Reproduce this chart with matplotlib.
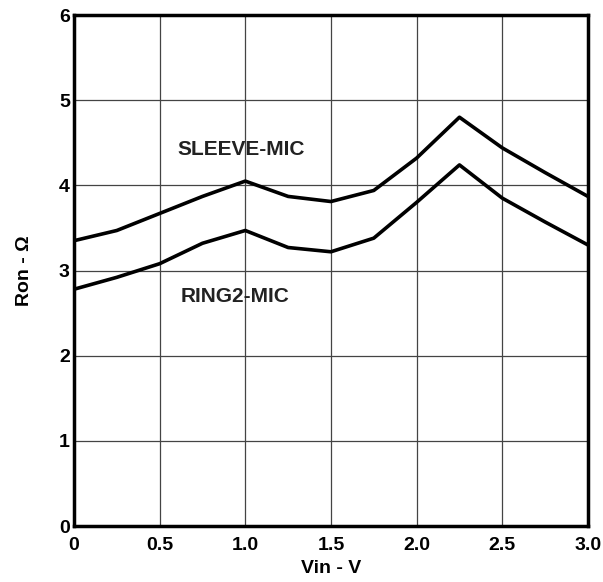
import matplotlib
matplotlib.use("Agg")
import matplotlib.pyplot as plt

plt.rcParams["font.family"] = ["Liberation Sans", "DejaVu Sans"]
plt.rcParams["font.weight"] = "bold"

# Vin values and on-resistance readings
vin = [0, 0.25, 0.5, 0.75, 1.0, 1.25, 1.5, 1.75, 2.0, 2.25, 2.5, 2.75, 3.0]
sleeve_mic = [3.35, 3.47, 3.67, 3.87, 4.05, 3.87, 3.81, 3.94, 4.32, 4.80, 4.44, 4.15, 3.87]
ring2_mic = [2.78, 2.92, 3.08, 3.32, 3.47, 3.27, 3.22, 3.38, 3.80, 4.24, 3.85, 3.57, 3.30]

x_ticks = [0, 0.5, 1.0, 1.5, 2.0, 2.5, 3.0]
x_tick_labels = ["0", "0.5", "1.0", "1.5", "2.0", "2.5", "3.0"]
y_ticks = [0, 1, 2, 3, 4, 5, 6]

fig = plt.figure(figsize=(6.03, 5.82), dpi=100)
ax = fig.add_axes([0.1227, 0.0962, 0.8523, 0.878])

ax.plot(vin, sleeve_mic, color="black", linewidth=2.6)
ax.plot(vin, ring2_mic, color="black", linewidth=2.6)

ax.text(0.975, 4.42, "SLEEVE-MIC", ha="center", va="center", fontsize=15, fontweight="bold", color="#222222")
ax.text(0.94, 2.69, "RING2-MIC", ha="center", va="center", fontsize=15, fontweight="bold", color="#222222")

ax.set_xlim(0, 3.0)
ax.set_ylim(0, 6)
ax.set_xticks(x_ticks)
ax.set_xticklabels(x_tick_labels)
ax.set_yticks(y_ticks)
ax.tick_params(axis="x", length=0, labelsize=14, pad=8)
ax.tick_params(axis="y", length=0, labelsize=14, pad=3)
for lab in ax.get_xticklabels() + ax.get_yticklabels():
    lab.set_fontweight("bold")

ax.grid(True, color="#444444", linewidth=0.9)
ax.set_axisbelow(True)
for sp in ax.spines.values():
    sp.set_linewidth(2.5)

ax.set_xlabel("Vin - V", fontsize=14, fontweight="bold", labelpad=4)
ax.set_ylabel("Ron - Ω", fontsize=14, fontweight="bold", labelpad=19)

fig.savefig("out.png", dpi=100)
